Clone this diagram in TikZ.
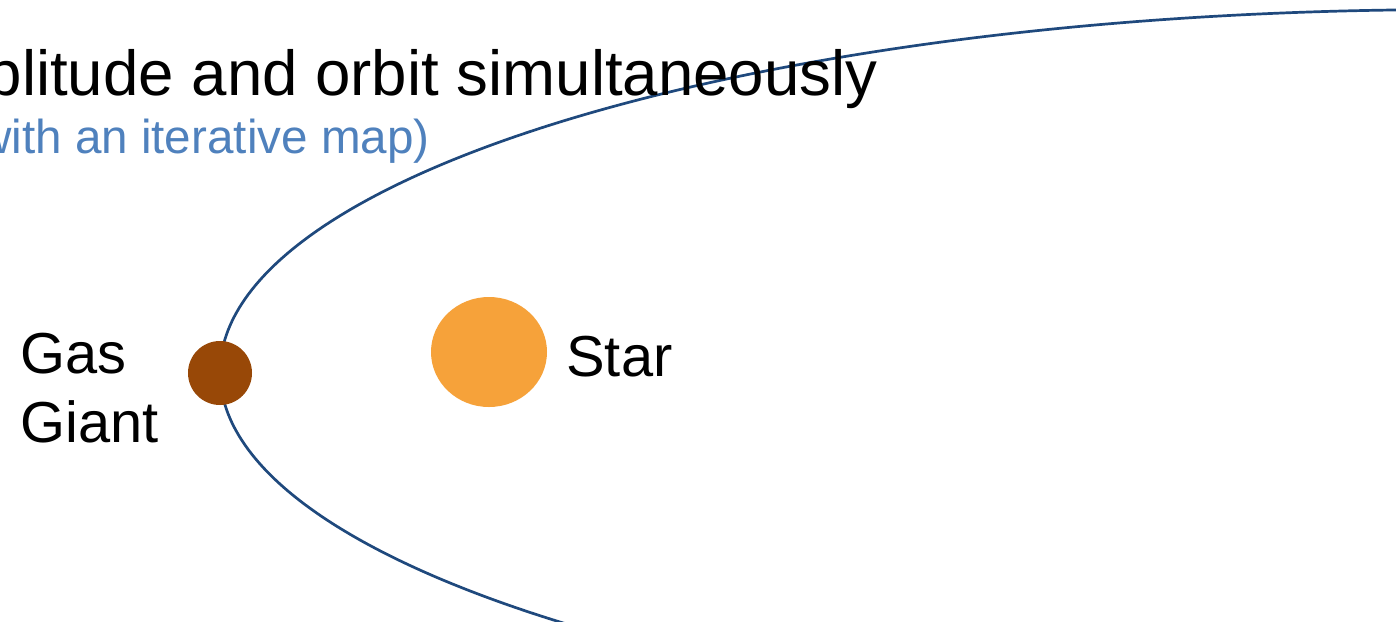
\documentclass[tikz,border=0pt]{standalone}
\usepackage{fontspec}
\setmainfont{Liberation Sans}
\usetikzlibrary{shapes.geometric}
\definecolor{orbitblue}{HTML}{1F497D}
\definecolor{subblue}{HTML}{4F81BD}
\definecolor{giantbrown}{HTML}{984807}
\definecolor{starorange}{HTML}{F6A23A}
\tikzset{
  px/.style={x=0.5pt,y=-0.5pt},
  orbit/.style={draw=orbitblue,line width=1.35pt},
  label/.style={inner sep=0pt,font=\fontsize{28.9}{34.5}\selectfont,text=black},
}
\begin{document}
\begin{tikzpicture}[px]
\useasboundingbox (0,0) rectangle (1396,621);
\clip (0,0) rectangle (1396,621);
\fill[white] (0,0) rectangle (1396,621);
% orbit
\draw[orbit] (1451.5,372) ellipse [x radius=615.75pt, y radius=181.2pt];
% bodies
\node[circle,fill=giantbrown,minimum size=32pt,inner sep=0pt] (giant) at (220,373) {};
\node[ellipse,fill=starorange,minimum width=58pt,minimum height=55pt,inner sep=0pt] (star) at (489,352) {};
% texts
\node[anchor=base east,inner sep=0pt,font=\fontsize{31.8}{38}\selectfont] (title) at (878,95) {amplitude and orbit simultaneously};
\node[anchor=base east,inner sep=0pt,text=subblue,font=\fontsize{23.8}{28}\selectfont] (sub) at (430,153) {(with an iterative map)};
\node[label,anchor=base west,align=left] (giantlabel) at (20,442) {Gas\\Giant};
\node[label,anchor=base west] (starlabel) at (566,376) {Star};
\end{tikzpicture}
\end{document}
